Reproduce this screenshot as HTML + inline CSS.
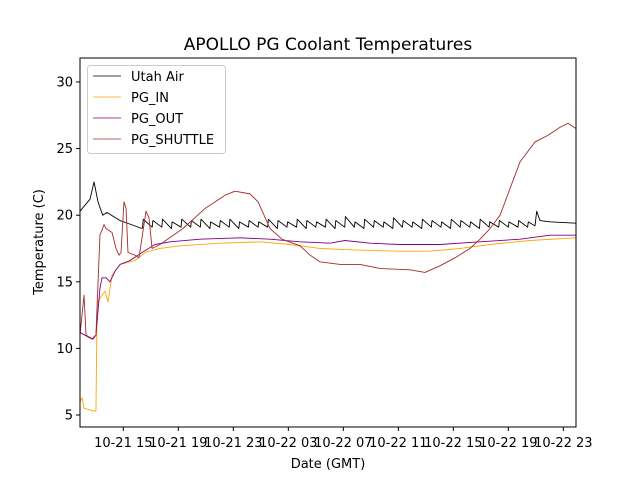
<!DOCTYPE html>
<html><head><meta charset="utf-8"><style>
body{margin:0;background:#fff}
svg{display:block;font-family:"DejaVu Sans","Liberation Sans",sans-serif}
</style></head><body>
<svg id="chart" width="640" height="480" viewBox="0 0 640 480">
<rect x="0" y="0" width="640" height="480" fill="#fff"/>
<text x="328" y="50" text-anchor="middle" font-size="17">APOLLO PG Coolant Temperatures</text>
<g id="plot"></g>
<g id="axes"></g>
<text x="328" y="468" text-anchor="middle" font-size="13">Date (GMT)</text>
<text transform="translate(43,242) rotate(-90)" text-anchor="middle" font-size="13">Temperature (C)</text>
<g>
<rect x="87.5" y="65.5" width="138" height="88" rx="3" fill="#fff" fill-opacity="0.8" stroke="#ccc"/>
<line x1="93" y1="76" x2="121" y2="76" stroke="#000" stroke-width="0.8"/>
<text x="131" y="81" font-size="13">Utah Air</text>
<line x1="93" y1="97" x2="121" y2="97" stroke="#ffa500" stroke-width="0.8"/>
<text x="131" y="102" font-size="13">PG_IN</text>
<line x1="93" y1="118" x2="121" y2="118" stroke="#800080" stroke-width="0.8"/>
<text x="131" y="123" font-size="13">PG_OUT</text>
<line x1="93" y1="139" x2="121" y2="139" stroke="#a52a2a" stroke-width="0.8"/>
<text x="131" y="144" font-size="13">PG_SHUTTLE</text>
</g>
</svg>
<script>
// hours since 10-21 00:00 GMT
const xTickHours = [15, 19, 23, 27, 31, 35, 39, 43, 47];
const xTickLabels = ["10-21 15","10-21 19","10-21 23","10-22 03","10-22 07","10-22 11","10-22 15","10-22 19","10-22 23"];
const yTicks = [5, 10, 15, 20, 25, 30];

const airHours = [11.85,12.58,12.87,13.16,13.5,13.81,14.76,16.36];
const airTemps = [20.3,21.2,22.5,21.0,20.0,20.2,19.6,19.0];
const airToothStarts = [16.4,17.1,17.8,18.5,19.2,19.9,20.6,21.3,22.0,22.7,23.4,24.1,24.8,25.5,26.2,26.9,27.6,28.3,29.0,29.7,30.4,31.1,31.8,32.5,33.2,33.9,34.6,35.3,36.0,36.7,37.4,38.1,38.8,39.5,40.2,40.9,41.6,42.3,43.0,43.7,44.4];
const airToothPeaks = [19.7,19.6,19.7,19.5,19.7,19.6,19.7,19.5,19.6,19.7,19.5,19.6,19.5,19.7,19.6,19.5,19.7,19.6,19.5,19.7,19.6,19.9,19.5,19.7,19.6,19.5,19.8,19.6,19.5,19.7,19.6,19.5,19.7,19.6,19.5,19.7,19.5,19.6,19.5,19.6,19.5];
const airToothTroughs = [19.1,19.1,19.1,19.0,19.1,19.1,19.1,19.0,19.1,19.1,19.0,19.1,19.1,19.1,19.0,19.1,19.1,19.0,19.1,19.1,19.0,19.1,19.1,19.0,19.1,19.1,19.0,19.1,19.1,19.0,19.1,19.1,19.0,19.1,19.1,19.0,19.1,19.1,19.1,19.1,19.1];
const airTailHours = [44.94,45.06,45.3,46.0,47.92];
const airTailTemps = [19.2,20.3,19.6,19.5,19.4];

const inHours = [11.85,12.0,12.14,12.87,13.01,13.09,13.16,13.45,13.67,13.89,14.18,14.76,15.85,16.58,17.67,19.12,22.03,24.94,27.12,29.3,31.49,35.12,37.3,39.49,41.67,44.58,47.92];
const inTemps = [6.0,6.3,5.5,5.3,5.3,13.0,13.5,14.0,14.3,13.5,15.5,16.3,16.6,17.2,17.5,17.7,17.9,18.0,17.8,17.5,17.4,17.3,17.3,17.5,17.8,18.1,18.3];

const outHours = [11.85,12.72,13.01,13.3,13.45,13.74,14.03,14.4,14.76,15.49,16.36,17.3,18.4,20.58,23.49,25.67,27.85,30.03,31.12,32.94,35.12,38.03,40.94,43.85,46.03,47.92];
const outTemps = [11.2,10.7,11.0,14.5,15.3,15.3,15.0,15.8,16.3,16.6,17.2,17.8,18.0,18.2,18.3,18.2,18.0,17.9,18.1,17.9,17.8,17.8,18.0,18.2,18.5,18.5];

const shuttleHours = [11.85,12.14,12.29,12.8,13.01,13.3,13.6,13.74,14.18,14.47,14.69,14.83,15.05,15.2,15.34,15.85,16.14,16.65,16.87,17.09,17.67,19.34,20.94,22.4,23.12,24.21,24.8,25.67,26.54,27.85,28.58,29.3,30.76,32.21,33.67,35.85,36.94,38.03,39.12,40.21,40.94,41.67,42.4,43.12,43.85,44.94,45.89,46.76,47.34,47.92];
const shuttleTemps = [11.0,14.0,11.0,10.7,11.0,18.5,19.3,19.0,18.7,17.5,17.0,17.2,21.0,20.5,17.2,17.0,16.8,20.3,19.8,17.5,17.8,19.0,20.5,21.5,21.8,21.6,21.0,19.0,18.2,17.7,17.0,16.5,16.3,16.3,16.0,15.9,15.7,16.2,16.8,17.5,18.2,19.0,20.0,22.0,24.0,25.5,26.0,26.6,26.9,26.5];

const L=80,R=576,T=58,B=427, H0=11.85, H1=47.92, V0=4.10, V1=31.80;
function xs(h){return L+(h-H0)/(H1-H0)*(R-L);}
function ys(v){return B-(v-V0)/(V1-V0)*(B-T);}
const NS="http://www.w3.org/2000/svg";
const plot=document.getElementById('plot'), axes=document.getElementById('axes');
function mk(tag,attrs,parent){const e=document.createElementNS(NS,tag);for(const k in attrs)e.setAttribute(k,attrs[k]);parent.appendChild(e);return e;}
function line(hs,vs,color,name){
  const d=hs.map((h,i)=>(i?'L':'M')+xs(h).toFixed(2)+','+ys(vs[i]).toFixed(2)).join('');
  const p=mk('path',{d:d,fill:'none',stroke:color,'stroke-width':0.9,'stroke-linejoin':'round'},plot);
  
  
}
let aH=airHours.slice(), aV=airTemps.slice();
airToothStarts.forEach((h,i)=>{aH.push(h);aV.push(airToothTroughs[i]);aH.push(h+0.05);aV.push(airToothPeaks[i]);});
aH=aH.concat(airTailHours); aV=aV.concat(airTailTemps);
line(aH,aV,'#000','series-utah-air');
line(inHours,inTemps,'#ffa500','series-pg-in');
line(outHours,outTemps,'#800080','series-pg-out');
line(shuttleHours,shuttleTemps,'#a52a2a','series-pg-shuttle');

const frame=mk('rect',{x:L,y:T,width:R-L,height:B-T,fill:'none',stroke:'#000','stroke-width':1},axes);


xTickHours.forEach((h,i)=>{
  const x=xs(h);
  const t=mk('line',{x1:x,y1:B,x2:x,y2:B+4,stroke:'#000'},axes);
  
  
  const tx=mk('text',{x:x,y:B+20,'text-anchor':'middle','font-size':13},axes);
  tx.textContent=xTickLabels[i];
  
  
});
yTicks.forEach(v=>{
  const y=ys(v);
  const t=mk('line',{x1:L-4,y1:y,x2:L,y2:y,stroke:'#000'},axes);
  
  
  const tx=mk('text',{x:L-7,y:y+4.5,'text-anchor':'end','font-size':13},axes);
  tx.textContent=v;
  
  
});
</script>
</body></html>
